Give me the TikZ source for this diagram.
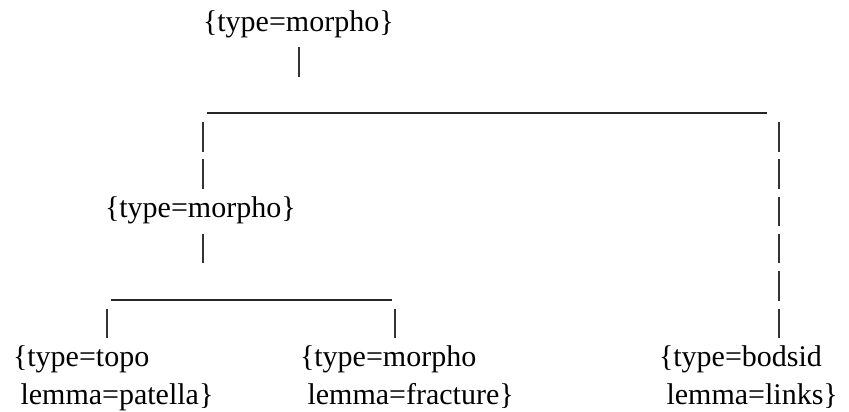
\documentclass[tikz,border=0pt]{standalone}
\usepackage{fontspec}
\setmainfont{Liberation Serif}
\begin{document}
\begin{tikzpicture}[x=1pt,y=-1pt,
  lbl/.style={anchor=base west, inner sep=0pt, outer sep=0pt,
              font=\fontsize{30}{37}\selectfont},
  bar/.style={line width=1.4pt, draw=black!80, dash pattern=on 29.5pt off 7.8pt},
  rule/.style={line width=1.6pt, draw=black!85}]
\useasboundingbox (0,0) rectangle (849,412);

% feature-structure labels (one node per printed line)
\node[lbl] (root)  at (203,31.1)  {\{type=morpho\}};
\node[lbl] (mid)   at (105,217.6) {\{type=morpho\}};
\node[lbl] (topoA) at (13,366.8)  {\{type=topo};
\node[lbl] (topoB) at (13,404.1)  {\ lemma=patella\}};
\node[lbl] (morA)  at (300,366.8) {\{type=morpho};
\node[lbl] (morB)  at (300,404.1) {\ lemma=fracture\}};
\node[lbl] (bodA)  at (659,366.8) {\{type=bodsid};
\node[lbl] (bodB)  at (659,404.1) {\ lemma=links\}};

% junction points of the tree
\coordinate (rootdown) at (299,47.4);
\coordinate (rootbarL) at (207,113);
\coordinate (rootbarR) at (767,113);
\coordinate (leftTop)  at (203,122);
\coordinate (leftEnd)  at (203,188.8);
\coordinate (rightTop) at (779,122);
\coordinate (rightEnd) at (779,338);
\coordinate (middown)  at (203,233.9);
\coordinate (midbarL)  at (111,300);
\coordinate (midbarR)  at (392,300);
\coordinate (topoUp)   at (107,308.5);
\coordinate (morUp)    at (395,308.5);

% upper level
\draw[bar]  (rootdown) -- ++(0,29.5);
\draw[rule] (rootbarL) -- (rootbarR);
\draw[bar]  (leftTop) -- (leftEnd);
\draw[bar]  (rightTop) -- (rightEnd);

% lower level
\draw[bar]  (middown) -- ++(0,29.5);
\draw[rule] (midbarL) -- (midbarR);
\draw[bar]  (topoUp) -- ++(0,29.5);
\draw[bar]  (morUp) -- ++(0,29.5);
\end{tikzpicture}
\end{document}
